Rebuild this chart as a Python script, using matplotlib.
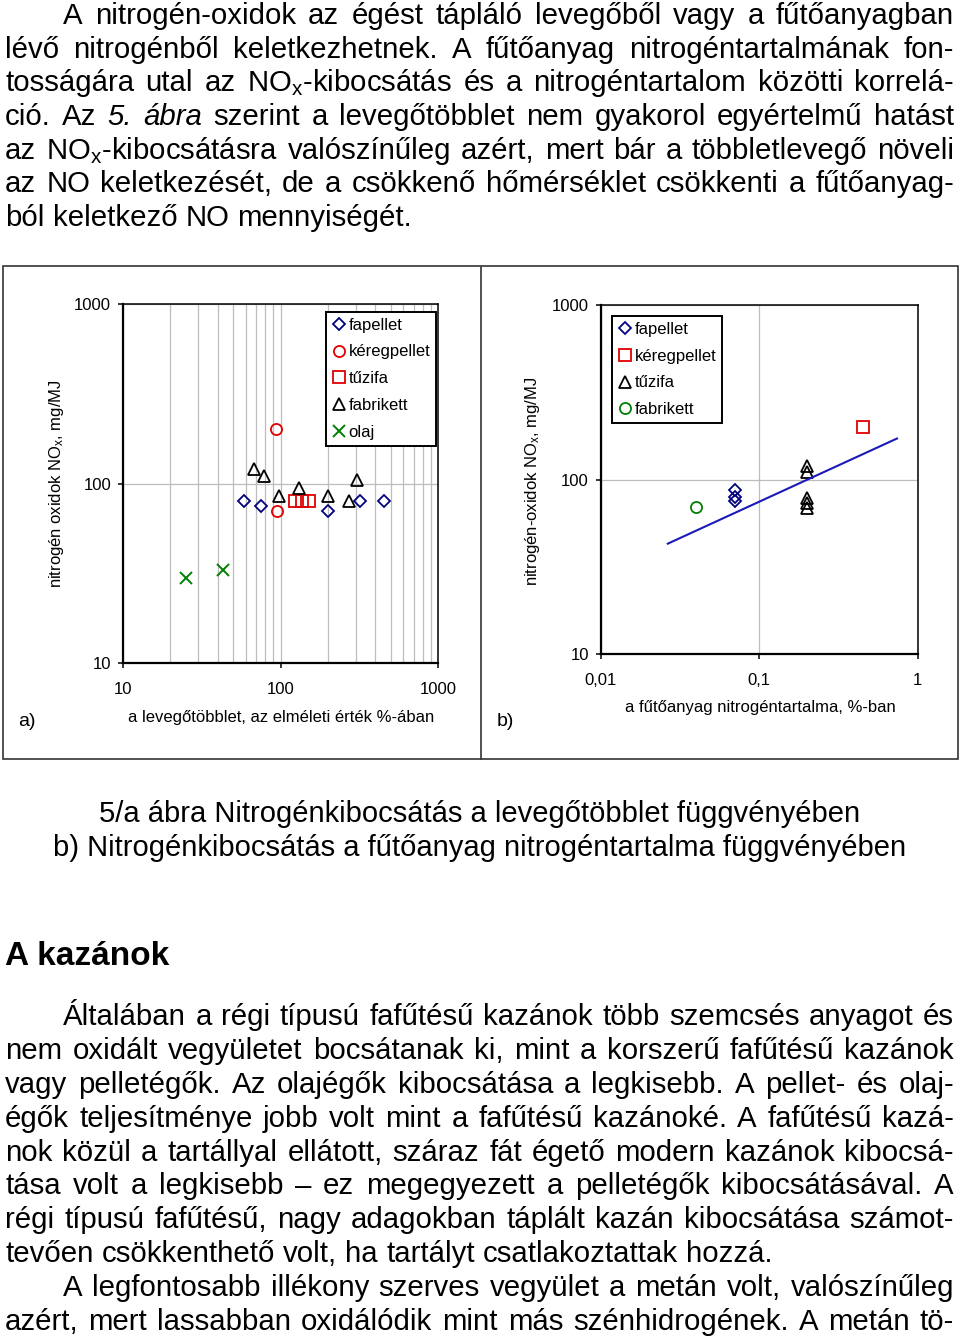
import matplotlib
matplotlib.use('Agg')
import matplotlib.pyplot as plt
from matplotlib.lines import Line2D
from matplotlib.patches import Rectangle

plt.rcParams['font.family'] = ['Liberation Sans', 'DejaVu Sans']
plt.rcParams['mathtext.fontset'] = 'custom'
plt.rcParams['mathtext.rm'] = 'Liberation Sans'
plt.rcParams['mathtext.it'] = 'Liberation Sans:italic'
plt.rcParams['mathtext.default'] = 'regular'

W, H = 960, 1339

# chart a) - air excess (% of theoretical) vs NOx (mg/MJ)
a_fapellet_x = [59, 75, 201, 321, 456]
a_fapellet_y = [80, 75, 70.5, 80, 80]
a_keregpellet_x = [94, 95]
a_keregpellet_y = [201, 70.5]
a_tuzifa_x = [123, 137, 152]
a_tuzifa_y = [80, 80, 80]
a_fabrikett_x = [68, 78, 98, 131, 201, 272, 307]
a_fabrikett_y = [120, 110, 85, 95, 85, 80, 105]
a_olaj_x = [25, 43]
a_olaj_y = [30, 33]

# chart b) - nitrogen content of fuel (%) vs NOx (mg/MJ)
b_fapellet_x = [0.07, 0.07, 0.07]
b_fapellet_y = [87, 80, 75]
b_keregpellet_x = [0.45]
b_keregpellet_y = [200]
b_tuzifa_x = [0.2, 0.2, 0.2, 0.2, 0.2]
b_tuzifa_y = [120, 110, 79, 73.5, 69]
b_fabrikett_x = [0.04]
b_fabrikett_y = [70]
trend_x = [0.0265, 0.74]
trend_y = [43, 172]

a_xticks = [10, 100, 1000]
a_xticklabels = ['10', '100', '1000']
b_xticks = [0.01, 0.1, 1]
b_xticklabels = ['0,01', '0,1', '1']
yticks = [10, 100, 1000]
yticklabels = ['10', '100', '1000']

top_lines = [
    "A nitrogén-oxidok az égést tápláló levegőből vagy a fűtőanyagban",
    "lévő nitrogénből keletkezhetnek. A fűtőanyag nitrogéntartalmának fon-",
    "tosságára utal az NO$_{x}$-kibocsátás és a nitrogéntartalom közötti korrelá-",
    "ció. Az *5. *ábra szerint a levegőtöbblet nem gyakorol egyértelmű hatást",
    "az NO$_{x}$-kibocsátásra valószínűleg azért, mert bár a többletlevegő növeli",
    "az NO keletkezését, de a csökkenő hőmérséklet csökkenti a fűtőanyag-",
    "ból keletkező NO mennyiségét.",
]
captions = [
    "5/a ábra Nitrogénkibocsátás a levegőtöbblet függvényében",
    "b) Nitrogénkibocsátás a fűtőanyag nitrogéntartalma függvényében",
]
heading = "A kazánok"
bottom_lines = [
    "Általában a régi típusú fafűtésű kazánok több szemcsés anyagot és",
    "nem oxidált vegyületet bocsátanak ki, mint a korszerű fafűtésű kazánok",
    "vagy pelletégők. Az olajégők kibocsátása a legkisebb. A pellet- és olaj-",
    "égők teljesítménye jobb volt mint a fafűtésű kazánoké. A fafűtésű kazá-",
    "nok közül a tartállyal ellátott, száraz fát égető modern kazánok kibocsá-",
    "tása volt a legkisebb – ez megegyezett a pelletégők kibocsátásával. A",
    "régi típusú fafűtésű, nagy adagokban táplált kazán kibocsátása számot-",
    "tevően csökkenthető volt, ha tartályt csatlakoztattak hozzá.",
    "A legfontosabb illékony szerves vegyület a metán volt, valószínűleg",
    "azért, mert lassabban oxidálódik mint más szénhidrogének. A metán tö-",
]


def fx(px):
    return px / W


def fy(py):
    return 1 - py / H


# draw one line of body text, words spread out to fill x0..x1
def draw_line(fig, renderer, line, x0, x1, y, size, justify=True):
    texts = []
    for w in line.split(' '):
        style = 'normal'
        if w.startswith('*'):
            style = 'italic'
            w = w[1:]
        texts.append(fig.text(0, fy(y), w, fontsize=size, style=style,
                              va='baseline', ha='left'))
    widths = [t.get_window_extent(renderer).width for t in texts]
    if justify and len(texts) > 1:
        gap = (x1 - x0 - sum(widths)) / (len(texts) - 1)
    else:
        gap = 0.278 * size * 100 / 72
    x = x0
    for t, w in zip(texts, widths):
        t.set_x(fx(x))
        x += w + gap


def setup_axes(ax, xlim, xticks, xticklabels):
    ax.set_xscale('log')
    ax.set_yscale('log')
    ax.set_xlim(*xlim)
    ax.set_ylim(10, 1000)
    ax.set_xticks(xticks, xticklabels)
    ax.set_yticks(yticks, yticklabels)
    ax.set_yticks([], minor=True)
    ax.tick_params(which='major', direction='out', length=3.6, width=1.1,
                   labelsize=12, color='black')
    ax.tick_params(axis='x', which='major', pad=10)
    ax.tick_params(axis='y', which='major', pad=5)
    ax.tick_params(which='minor', length=0)
    for side in ['left', 'bottom']:
        ax.spines[side].set_linewidth(1.6)
    for side in ['top', 'right']:
        ax.spines[side].set_linewidth(1.1)
    ax.set_axisbelow(True)


def add_legend(ax, x, y):
    leg = ax.legend(loc='upper left', bbox_to_anchor=(fx(x), fy(y)),
                    bbox_transform=ax.figure.transFigure, fontsize=12,
                    frameon=True, fancybox=False, edgecolor='black', framealpha=1,
                    borderaxespad=0, borderpad=0.35, labelspacing=0.71,
                    handlelength=0.8, handletextpad=0.2)
    leg.get_frame().set_linewidth(1.4)


fig = plt.figure(figsize=(W / 100, H / 100), dpi=100)
renderer = fig.canvas.get_renderer()

# chart a
ax_a = fig.add_axes([fx(123), fy(663.3), (438 - 123) / W, (663.3 - 304) / H])
setup_axes(ax_a, (10, 1000), a_xticks, a_xticklabels)
ax_a.set_xticks([v * m for m in (10, 100) for v in range(2, 10)], minor=True)
ax_a.xaxis.grid(True, which='both', color='#bdbdbd', lw=0.9)
ax_a.yaxis.grid(True, which='major', color='#bdbdbd', lw=0.9)
ax_a.plot(a_fapellet_x, a_fapellet_y, 'D', ms=6.3, mfc='none', mec='#000080', mew=1.3, label='fapellet')
ax_a.plot(a_keregpellet_x, a_keregpellet_y, 'o', ms=8, mfc='none', mec='#e00000', mew=1.3, label='kéregpellet')
ax_a.plot(a_tuzifa_x, a_tuzifa_y, 's', ms=8, mfc='none', mec='#e00000', mew=1.3, label='tűzifa')
ax_a.plot(a_fabrikett_x, a_fabrikett_y, '^', ms=8, mfc='none', mec='black', mew=1.3, label='fabrikett')
ax_a.plot(a_olaj_x, a_olaj_y, 'x', ms=8, mec='#008000', mew=1.4, label='olaj')
add_legend(ax_a, 326, 311.7)

# chart b
ax_b = fig.add_axes([fx(600.7), fy(654.3), (917.7 - 600.7) / W, (654.3 - 305) / H])
setup_axes(ax_b, (0.01, 1), b_xticks, b_xticklabels)
ax_b.set_xticks([], minor=True)
ax_b.grid(True, which='major', color='#bdbdbd', lw=0.9)
ax_b.plot(b_fapellet_x, b_fapellet_y, 'D', ms=6.3, mfc='none', mec='#000080', mew=1.3, label='fapellet')
ax_b.plot(b_keregpellet_x, b_keregpellet_y, 's', ms=8, mfc='none', mec='#e00000', mew=1.3, label='kéregpellet')
ax_b.plot(b_tuzifa_x, b_tuzifa_y, '^', ms=8, mfc='none', mec='black', mew=1.3, label='tűzifa')
ax_b.plot(b_fabrikett_x, b_fabrikett_y, 'o', ms=8, mfc='none', mec='#008000', mew=1.3, label='fabrikett')
add_legend(ax_b, 612.3, 316)
ax_b.plot(trend_x, trend_y, '-', color='#1a1ab8', lw=1.5)

# axis labels and panel letters
fig.text(fx(56), fy(484), 'nitrogén oxidok NO$_{x}$, mg/MJ', rotation=90, fontsize=12,
         ha='center', va='center')
fig.text(fx(533), fy(481), 'nitrogén-oxidok NO$_{x}$, mg/MJ', rotation=90, fontsize=12,
         ha='center', va='center')
fig.text(fx(281), fy(722), 'a levegőtöbblet, az elméleti érték %-ában', fontsize=12,
         ha='center', va='baseline')
fig.text(fx(760), fy(712), 'a fűtőanyag nitrogéntartalma, %-ban', fontsize=12,
         ha='center', va='baseline')
fig.text(fx(18), fy(726), 'a)', fontsize=14, va='baseline')
fig.text(fx(497), fy(726), 'b)', fontsize=14, va='baseline')

# frame around the two charts
fig.add_artist(Rectangle((fx(2.5), fy(759.5)), (958 - 2.5) / W, (759.5 - 266.5) / H,
                         transform=fig.transFigure, fill=False, ec='#333333', lw=1.2))
fig.add_artist(Line2D([fx(481), fx(481)], [fy(266.5), fy(759.5)],
                      transform=fig.transFigure, color='#333333', lw=1.2))

# body text
for i, line in enumerate(top_lines):
    x0 = 63 if i == 0 else 5
    draw_line(fig, renderer, line, x0, 954, 24 + 33.7 * i, 21.2,
              justify=(i < len(top_lines) - 1))

for i, cap in enumerate(captions):
    fig.text(0.5, fy(822 + 33.5 * i), cap, fontsize=21, ha='center', va='baseline')

fig.text(fx(5), fy(965), heading, fontsize=24, weight='bold', va='baseline')

for i, line in enumerate(bottom_lines):
    x0 = 63 if i in (0, 8) else 5
    draw_line(fig, renderer, line, x0, 954, 1025 + 33.9 * i, 21.2, justify=(i != 7))

fig.savefig('out.png', dpi=100)
